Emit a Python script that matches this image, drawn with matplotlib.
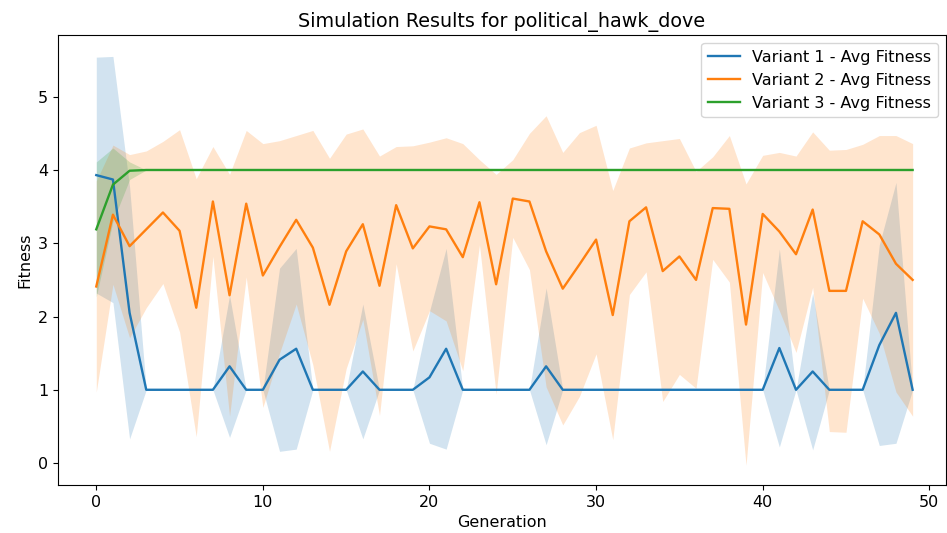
import matplotlib
matplotlib.use('Agg')
import matplotlib.pyplot as plt
import numpy as np

plt.rcParams['font.size'] = 11.5

generations = np.arange(50)

# Variant 1 (blue)
v1_mean = [3.93, 3.87, 2.05, 1.0, 1.0, 1.0, 1.0, 1.0, 1.32, 1.0,
           1.0, 1.41, 1.56, 1.0, 1.0, 1.0, 1.25, 1.0, 1.0, 1.0,
           1.17, 1.56, 1.0, 1.0, 1.0, 1.0, 1.0, 1.32, 1.0, 1.0,
           1.0, 1.0, 1.0, 1.0, 1.0, 1.0, 1.0, 1.0, 1.0, 1.0,
           1.0, 1.57, 1.0, 1.25, 1.0, 1.0, 1.0, 1.61, 2.05, 1.0]
v1_std = [1.61, 1.68, 1.72, 0, 0, 0, 0, 0, 0.97, 0,
          0, 1.25, 1.37, 0, 0, 0, 0.92, 0, 0, 0,
          0.9, 1.37, 0, 0, 0, 0, 0, 1.07, 0, 0,
          0, 0, 0, 0, 0, 0, 0, 0, 0, 0,
          0, 1.35, 0, 1.07, 0, 0, 0, 1.37, 1.78, 0]

# Variant 2 (orange)
v2_mean = [2.41, 3.39, 2.96, 3.19, 3.42, 3.17, 2.12, 3.57, 2.29, 3.54,
           2.56, 2.95, 3.32, 2.94, 2.16, 2.89, 3.26, 2.42, 3.52, 2.93,
           3.23, 3.19, 2.81, 3.56, 2.44, 3.61, 3.57, 2.89, 2.38, 2.71,
           3.05, 2.02, 3.30, 3.49, 2.62, 2.82, 2.50, 3.48, 3.47, 1.89,
           3.40, 3.16, 2.85, 3.46, 2.35, 2.35, 3.30, 3.12, 2.72, 2.50]
v2_std = [1.44, 0.95, 1.25, 1.07, 0.97, 1.38, 1.76, 0.75, 1.65, 1.0,
          1.8, 1.45, 1.15, 1.6, 2.0, 1.6, 1.3, 1.77, 0.8, 1.4,
          1.15, 1.25, 1.55, 0.58, 1.5, 0.53, 0.93, 1.85, 1.86, 1.8,
          1.56, 1.7, 1.0, 0.88, 1.78, 1.61, 1.48, 0.7, 1.0, 1.92,
          0.8, 1.08, 1.34, 1.06, 1.92, 1.93, 1.05, 1.35, 1.75, 1.86]

# Variant 3 (green)
v3_mean = [3.19, 3.80, 3.99] + [4.0] * 47
v3_std = [0.92, 0.5, 0.12] + [0.0] * 47

series = [
    ("Variant 1 - Avg Fitness", v1_mean, v1_std),
    ("Variant 2 - Avg Fitness", v2_mean, v2_std),
    ("Variant 3 - Avg Fitness", v3_mean, v3_std),
]

fig = plt.figure(figsize=(9.47, 5.33), dpi=100)
ax = fig.add_axes([0.0612, 0.090, 0.9377, 0.844])

for label, mean, std in series:
    mean = np.array(mean)
    std = np.array(std)
    line, = ax.plot(generations, mean, label=label, linewidth=1.7)
    ax.fill_between(generations, mean - std, mean + std,
                    color=line.get_color(), alpha=0.2, linewidth=0)

ax.set_xlim(-2.3, 51.0)
ax.set_ylim(-0.3, 5.84)
ax.set_title("Simulation Results for political_hawk_dove")
ax.set_xlabel("Generation")
ax.set_ylabel("Fitness")
ax.legend(loc="upper right")

plt.savefig("out.png", dpi=100)
